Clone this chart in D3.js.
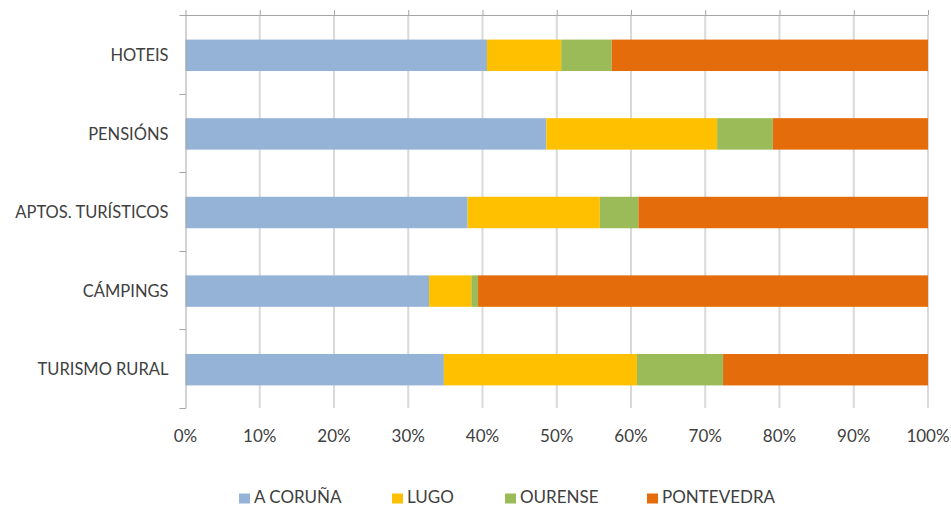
<!DOCTYPE html>
<html>
<head>
<meta charset="utf-8">
<script src="https://cdn.jsdelivr.net/npm/d3@7"></script>
<style>
  body { margin: 0; background: #fff; }
  text { font-family: Lato, "Liberation Sans", sans-serif; fill: #404040; }
</style>
</head>
<body>
<script>
// categories and series (percent shares)
var categories = ["HOTEIS", "PENSIÓNS", "APTOS. TURÍSTICOS", "CÁMPINGS", "TURISMO RURAL"];
var seriesNames = ["A CORUÑA", "LUGO", "OURENSE", "PONTEVEDRA"];
var coruna     = [40.6, 48.6, 38.0, 32.8, 34.8];
var lugo       = [10.0, 23.0, 17.8,  5.7, 26.0];
var ourense    = [ 6.8,  7.5,  5.2,  0.9, 11.6];
var pontevedra = [42.6, 20.9, 39.0, 60.6, 27.6];
var colors = ["#95B3D7", "#FFC000", "#9BBB59", "#E46C0A"];
var tickValues = [0, 0.1, 0.2, 0.3, 0.4, 0.5, 0.6, 0.7, 0.8, 0.9, 1];

var W = 951, H = 507;
var margin = {top: 15, left: 185.5, right: 23, bottom: 99};
var width = W - margin.left - margin.right,
    height = H - margin.top - margin.bottom;

// build table for d3.stack
var table = categories.map(function(c, i) {
  var total = coruna[i] + lugo[i] + ourense[i] + pontevedra[i];
  return {
    cat: c,
    "A CORUÑA": coruna[i] / total,
    "LUGO": lugo[i] / total,
    "OURENSE": ourense[i] / total,
    "PONTEVEDRA": pontevedra[i] / total
  };
});
var stacked = d3.stack().keys(seriesNames)(table);

var x = d3.scaleLinear().domain([0, 1]).range([0, width]);
var y = d3.scaleBand().domain(categories).range([0, height]).paddingInner(0.6).paddingOuter(0.3);

var svg = d3.select("body").append("svg")
    .attr("width", W)
    .attr("height", H);

var g = svg.append("g")
    .attr("transform", "translate(" + margin.left + "," + margin.top + ")");

// vertical gridlines
g.selectAll(".grid")
  .data(tickValues.slice(1))
  .enter().append("line")
    .attr("x1", function(d) { return x(d); })
    .attr("x2", function(d) { return x(d); })
    .attr("y1", 0)
    .attr("y2", height)
    .attr("stroke", "#d9d9d9")
    .attr("stroke-width", 2);

// bars
g.selectAll(".series")
  .data(stacked)
  .enter().append("g")
    .attr("fill", function(d, i) { return colors[i]; })
  .selectAll("rect")
  .data(function(d) { return d; })
  .enter().append("rect")
    .attr("x", function(d) { return x(d[0]); })
    .attr("width", function(d) { return x(d[1]) - x(d[0]); })
    .attr("y", function(d) { return y(d.data.cat) + 1; })
    .attr("height", y.bandwidth());

// top value axis line with small ticks
var topAxis = g.append("g").call(d3.axisTop(x).tickValues(tickValues).tickSize(5).tickFormat(""));
topAxis.select(".domain").attr("stroke", "#a6a6a6").attr("d", "M0,0.5H" + width);
topAxis.selectAll(".tick line").attr("stroke", "#a6a6a6");

// left category axis with ticks at band boundaries
var bounds = categories.map(function(c) { return y(c) - y.step() * y.paddingInner() / 2; });
bounds[0] = 0;
bounds.push(height);
g.append("line")
  .attr("x1", 0.5).attr("x2", 0.5).attr("y1", 0).attr("y2", height)
  .attr("stroke", "#a6a6a6");
g.selectAll(".ctick")
  .data(bounds)
  .enter().append("line")
    .attr("x1", -6).attr("x2", 0.5)
    .attr("y1", function(d) { return Math.round(d) + 0.5; })
    .attr("y2", function(d) { return Math.round(d) + 0.5; })
    .attr("stroke", "#a6a6a6");

// category labels
g.selectAll(".clabel")
  .data(categories)
  .enter().append("text")
    .attr("x", -17)
    .attr("y", function(d) { return y(d) + y.bandwidth() / 2 + 1; })
    .attr("dy", "0.35em")
    .attr("text-anchor", "end")
    .style("font-size", "16.5px")
    .text(function(d) { return d; });

// tick labels (bottom)
g.selectAll(".xlabel")
  .data(tickValues)
  .enter().append("text")
    .attr("x", function(d) { return x(d); })
    .attr("y", height + 28)
    .attr("dy", "0.35em")
    .attr("text-anchor", "middle")
    .style("font-size", "17px")
    .text(d3.format(".0%"));

// legend
var legendX = [239, 392, 505, 647];
var legend = svg.selectAll(".legend")
  .data(seriesNames)
  .enter().append("g")
    .attr("transform", function(d, i) { return "translate(" + legendX[i] + "," + 497.5 + ")"; });
legend.append("rect")
  .attr("x", 0).attr("y", -4)
  .attr("width", 11).attr("height", 10)
  .attr("fill", function(d, i) { return colors[i]; });
legend.append("text")
  .attr("x", 15)
  .attr("y", 0)
  .attr("dy", "0.35em")
  .style("font-size", "17px")
  .text(function(d) { return d; });
</script>
</body>
</html>
